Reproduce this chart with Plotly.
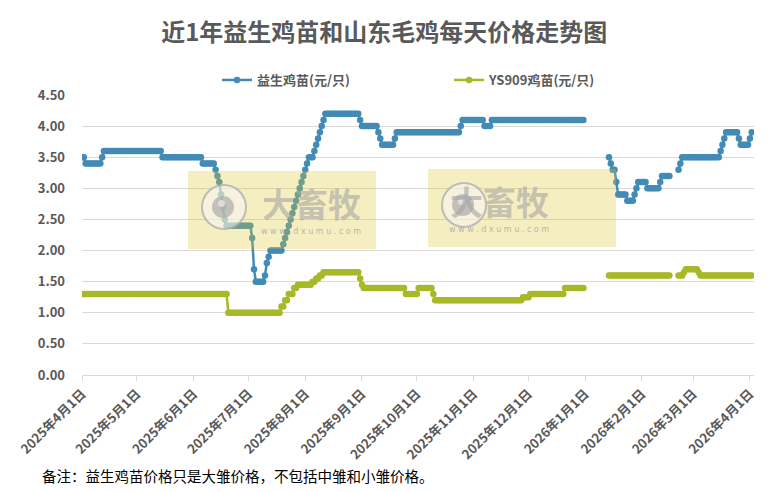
import pandas as pd
import plotly.graph_objects as go

# ------------------------------------------------------------
# データ：価格が変わった日とその価格（None = データなし）
# ------------------------------------------------------------
yisheng_dates = [
    "2025-04-01", "2025-04-03", "2025-04-12", "2025-04-13", "2025-05-15",
    "2025-06-06", "2025-06-13", "2025-06-14", "2025-06-15", "2025-06-16",
    "2025-06-17", "2025-06-18", "2025-06-19", "2025-07-03", "2025-07-04",
    "2025-07-05", "2025-07-10", "2025-07-11", "2025-07-12", "2025-07-13",
    "2025-07-20", "2025-07-21", "2025-07-22", "2025-07-23", "2025-07-24",
    "2025-07-25", "2025-07-26", "2025-07-27", "2025-07-28", "2025-07-29",
    "2025-07-30", "2025-07-31", "2025-08-01", "2025-08-02", "2025-08-03",
    "2025-08-06", "2025-08-07", "2025-08-08", "2025-08-09", "2025-08-10",
    "2025-08-11", "2025-08-12", "2025-08-31", "2025-09-01", "2025-09-10",
    "2025-09-11", "2025-09-12", "2025-09-19", "2025-09-20", "2025-10-25",
    "2025-10-26", "2025-11-07", "2025-11-11", "2026-01-01", "2026-01-14",
    "2026-01-15", "2026-01-16", "2026-01-18", "2026-01-19", "2026-01-24",
    "2026-01-28", "2026-01-29", "2026-01-30", "2026-02-04", "2026-02-11",
    "2026-02-12", "2026-02-17", "2026-02-21", "2026-02-22", "2026-02-23",
    "2026-03-16", "2026-03-17", "2026-03-18", "2026-03-19", "2026-03-26",
    "2026-03-27", "2026-04-01", "2026-04-02",
]
yisheng_prices = [
    3.5, 3.4, 3.5, 3.6, 3.5,
    3.4, 3.3, 3.2, 3.1, 2.9,
    2.7, 2.5, 2.4, 2.2, 1.7,
    1.5, 1.6, 1.8, 1.9, 2.0,
    2.1, 2.2, 2.3, 2.4, 2.5,
    2.6, 2.7, 2.8, 2.9, 3.0,
    3.1, 3.2, 3.3, 3.4, 3.5,
    3.6, 3.7, 3.8, 3.9, 4.0,
    4.1, 4.2, 4.1, 4.0, 3.9,
    3.8, 3.7, 3.8, 3.9, 4.0,
    4.1, 4.0, 4.1, None, 3.5,
    3.4, 3.3, 3.1, 2.9, 2.8,
    2.9, 3.0, 3.1, 3.0, 3.1,
    3.2, None, 3.3, 3.4, 3.5,
    3.6, 3.7, 3.8, 3.9, 3.8,
    3.7, 3.8, 3.9,
]

ys909_dates = [
    "2025-04-01", "2025-06-20", "2025-07-19", "2025-07-21", "2025-07-23",
    "2025-07-26", "2025-07-28", "2025-08-05", "2025-08-07", "2025-08-09",
    "2025-08-11", "2025-08-31", "2025-09-01", "2025-09-02", "2025-09-25",
    "2025-10-02", "2025-10-10", "2025-10-11", "2025-11-28", "2025-12-02",
    "2025-12-21", "2026-01-01", "2026-01-14", "2026-02-17", "2026-02-21",
    "2026-02-24", "2026-02-25", "2026-03-04", "2026-03-05",
]
ys909_prices = [
    1.3, 1.0, 1.1, 1.2, 1.3,
    1.4, 1.45, 1.5, 1.55, 1.6,
    1.65, 1.55, 1.45, 1.4, 1.3,
    1.4, 1.3, 1.2, 1.25, 1.3,
    1.4, None, 1.6, None, 1.6,
    1.65, 1.7, 1.65, 1.6,
]

tick_dates = ["2025-04-01", "2025-05-01", "2025-06-01", "2025-07-01", "2025-08-01",
              "2025-09-01", "2025-10-01", "2025-11-01", "2025-12-01", "2026-01-01",
              "2026-02-01", "2026-03-01", "2026-04-01"]
tick_labels = ["2025年4月1日", "2025年5月1日", "2025年6月1日", "2025年7月1日", "2025年8月1日",
               "2025年9月1日", "2025年10月1日", "2025年11月1日", "2025年12月1日", "2026年1月1日",
               "2026年2月1日", "2026年3月1日", "2026年4月1日"]

# 毎日の値（前の価格をそのまま保持）
days = pd.date_range("2025-04-01", "2026-04-02", freq="D")


def daily(dates, prices):
    s = pd.Series([float("nan") if p is None else p for p in prices],
                  index=pd.to_datetime(dates))
    return s.reindex(days, method="ffill")


yisheng = daily(yisheng_dates, yisheng_prices)
ys909 = daily(ys909_dates, ys909_prices)

BLUE = "#428bb6"
GREEN = "#a7b928"
FONT = "Noto Sans CJK SC"

fig = go.Figure()
fig.add_trace(go.Scatter(x=days, y=yisheng, mode="lines+markers", name="<b>益生鸡苗(元/只)</b>",
                         line=dict(color=BLUE, width=2.5), marker=dict(color=BLUE, size=6.5)))
fig.add_trace(go.Scatter(x=days, y=ys909, mode="lines+markers", name="<b>YS909鸡苗(元/只)</b>",
                         line=dict(color=GREEN, width=2.5), marker=dict(color=GREEN, size=6.5)))

# ------------------------------------------------------------
# 透かし（大畜牧）
# ------------------------------------------------------------
L, R, T, B = 82, 27, 95, 117
W, H = 781, 492
pw, ph = W - L - R, H - T - B


def px(x):
    return (x - L) / pw


def py(y):
    return (H - B - y) / ph


for dx, dy in [(0, 2), (240, 0)]:
    fig.add_shape(type="rect", xref="paper", yref="paper", layer="above",
                  x0=px(188 + dx), x1=px(376 + dx), y0=py(247 + dy), y1=py(169 + dy),
                  fillcolor="rgba(222,198,45,0.3)", line_width=0)
    cx, cy = 224 + dx, 205 + dy
    fig.add_shape(type="circle", xref="paper", yref="paper", layer="above",
                  x0=px(cx - 22), x1=px(cx + 22), y0=py(cy + 22), y1=py(cy - 22),
                  fillcolor="rgba(245,245,245,0.55)", line=dict(color="rgba(175,175,175,0.8)", width=2))
    fig.add_shape(type="circle", xref="paper", yref="paper", layer="above",
                  x0=px(cx - 12), x1=px(cx + 10), y0=py(cy + 11), y1=py(cy - 11),
                  fillcolor="rgba(165,165,165,0.65)", line_width=0)
    fig.add_shape(type="circle", xref="paper", yref="paper", layer="above",
                  x0=px(cx - 6), x1=px(cx + 1), y0=py(cy), y1=py(cy - 7),
                  fillcolor="rgba(230,230,230,0.8)", line_width=0)
    fig.add_annotation(xref="paper", yref="paper", x=px(311 + dx), y=py(201 + dy),
                       text="<b>大畜牧</b>", showarrow=False,
                       font=dict(family=FONT, size=33, color="rgba(165,165,165,0.6)"))
    fig.add_annotation(xref="paper", yref="paper", x=px(311 + dx), y=py(229 + dy),
                       text="w w w . d x u m u . c o m", showarrow=False,
                       font=dict(family="DejaVu Sans", size=8, color="rgba(160,160,160,0.75)"))

fig.add_annotation(xref="paper", yref="paper", x=px(40), y=py(475), xanchor="left",
                   yanchor="middle", showarrow=False,
                   text="备注：益生鸡苗价格只是大雏价格，不包括中雏和小雏价格。",
                   font=dict(family=FONT, size=14.5, color="#000000"))

fig.update_layout(
    width=W, height=H,
    margin=dict(l=L, r=R, t=T, b=B, autoexpand=False),
    plot_bgcolor="white", paper_bgcolor="white",
    font=dict(family=FONT, color="#595959"),
    title=dict(text="<b>近1年益生鸡苗和山东毛鸡每天价格走势图</b>", x=0.492, xanchor="center",
               y=1 - 33 / H, yanchor="middle", font=dict(size=24, color="#595959")),
    legend=dict(orientation="h", x=px(217), xanchor="left", y=py(80), yanchor="middle",
                font=dict(size=13, color="#595959"), entrywidth=187, itemwidth=30),
    xaxis=dict(type="date", range=["2025-04-01", "2026-04-03 06:00"], automargin=False,
               tickvals=tick_dates, ticktext=[f"<b>{t}</b>" for t in tick_labels],
               tickangle=-45, tickfont=dict(size=13, color="#595959"),
               showgrid=False, showline=True, linecolor="#d9d9d9", linewidth=1,
               ticks="outside", ticklen=5, tickcolor="#d9d9d9", zeroline=False),
    yaxis=dict(range=[0, 4.5], dtick=0.5, tickformat=".2f", showgrid=True, automargin=False,
               gridcolor="#d9d9d9", gridwidth=1, zeroline=False, showline=False,
               tickfont=dict(size=13, color="#595959"), ticklabelstandoff=16,
               tickprefix="<b>", ticksuffix="</b>"),
    showlegend=True,
)

# ページ余白をなくす
fig.write_html("out.html", config={"displayModeBar": False},
               post_script="document.body.style.margin='0';")
